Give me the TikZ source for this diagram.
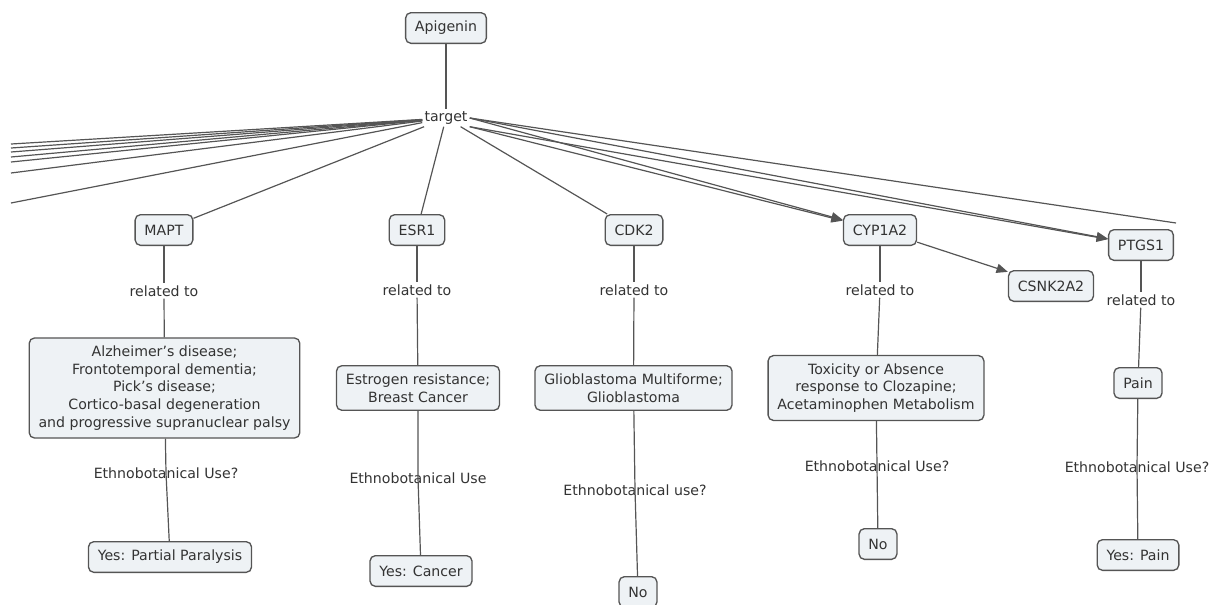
\documentclass[tikz,border=0pt]{standalone}
\usepackage{fontspec}
\setmainfont{DejaVu Sans}
\usetikzlibrary{arrows.meta, positioning, calc}
\definecolor{cmapfill}{HTML}{EEF2F5}
\definecolor{cmapline}{HTML}{555555}
\definecolor{cmaptext}{HTML}{333333}
\tikzset{
  concept/.style={rectangle, draw=cmapline, line width=1pt, rounded corners=4pt,
    fill=cmapfill, align=center, inner xsep=7pt, inner ysep=6pt,
    minimum height=23pt, text=cmaptext},
  phrase/.style={inner sep=1.5pt, align=center, text=cmaptext},
  link/.style={draw=cmapline, line width=0.9pt},
  arr/.style={link, -{Triangle[length=8.5pt, width=7pt]}},
}

\begin{document}
\begin{tikzpicture}[x=0.75pt, y=-0.75pt, every node/.style={font=\fontsize{10.6}{13.2}\selectfont}]
  \clip (0,0) rectangle (1213,604);

  % Root
  \node[concept] (apig) at (446,28) {Apigenin};
  \node[phrase] (target) at (446,118) {target};

  % Targets
  \node[concept] (mapt) at (164,230) {MAPT};
  \node[concept] (esr1) at (417,230) {ESR1};
  \node[concept] (cdk2) at (634,230) {CDK2};
  \node[concept] (cyp) at (880,230) {CYP1A2};
  \node[concept] (csnk) at (1051,286) {CSNK2A2};
  \node[concept] (ptgs) at (1141,245) {PTGS1};

  % related to
  \node[phrase] (rel1) at (164,291) {related to};
  \node[phrase] (rel2) at (417,290) {related to};
  \node[phrase] (rel3) at (634,290) {related to};
  \node[phrase] (rel4) at (880,290) {related to};
  \node[phrase] (rel5) at (1141,300) {related to};

  % Diseases
  \node[concept] (alz) at (164.5,388) {Alzheimer's disease;\\Frontotemporal dementia;\\Pick's disease;\\Cortico-basal degeneration\\and progressive supranuclear palsy};
  \node[concept] (estro) at (418,388) {Estrogen resistance;\\Breast Cancer};
  \node[concept] (glio) at (633.5,388) {Glioblastoma Multiforme;\\Glioblastoma};
  \node[concept] (tox) at (876,388) {Toxicity or Absence\\response to Clozapine;\\Acetaminophen Metabolism};
  \node[concept] (pain) at (1138,383) {Pain};

  % Ethnobotanical use
  \node[phrase] (eth1) at (166,473) {Ethnobotanical Use?};
  \node[phrase] (eth2) at (418,478) {Ethnobotanical Use};
  \node[phrase] (eth3) at (635,490) {Ethnobotanical use?};
  \node[phrase] (eth4) at (877,466) {Ethnobotanical Use?};
  \node[phrase] (eth5) at (1137,467) {Ethnobotanical Use?};

  % Answers
  \node[concept] (pp) at (170,557) {Yes: Partial Paralysis};
  \node[concept] (cancer) at (421,571) {Yes: Cancer};
  \node[concept] (no1) at (638,592) {No};
  \node[concept] (no2) at (878,544) {No};
  \node[concept] (yespain) at (1138,555) {Yes: Pain};

  % Loose ends
  \foreach \y [count=\i] in {144,148,152,157,162,173,203}
    \coordinate (off\i) at (11,\y);
  \coordinate (offr) at (1176,223);

  % Connections
  \draw[link] (apig) -- (target);
  \foreach \i in {1,...,7}
    \draw[link] (target) -- (off\i);
  \draw[link] (target.east) -- (offr);
  \draw[link] (target) -- (mapt);
  \draw[link] (target) -- (esr1);
  \draw[link] (target) -- (cdk2);
  \draw[arr] (target.east) -- (cyp);
  \draw[arr] (target.south east) -- (cyp);
  \draw[arr] (target.east) -- (ptgs);
  \draw[arr] (target.south east) -- (ptgs);
  \draw[arr] (cyp) -- (csnk);

  \draw[link] (mapt) -- (rel1); \draw[link] (rel1) -- (alz);
  \draw[link] (esr1) -- (rel2); \draw[link] (rel2) -- (estro);
  \draw[link] (cdk2) -- (rel3); \draw[link] (rel3) -- (glio);
  \draw[link] (cyp) -- (rel4); \draw[link] (rel4) -- (tox);
  \draw[link] (ptgs) -- (rel5); \draw[link] (rel5) -- (pain);

  \draw[link] (alz) -- (eth1.center) -- (pp);
  \draw[link] (estro) -- (eth2.center) -- (cancer);
  \draw[link] (glio) -- (eth3.center) -- (no1);
  \draw[link] (tox) -- (eth4.center) -- (no2);
  \draw[link] (pain) -- (eth5.center) -- (yespain);
\end{tikzpicture}
\end{document}
